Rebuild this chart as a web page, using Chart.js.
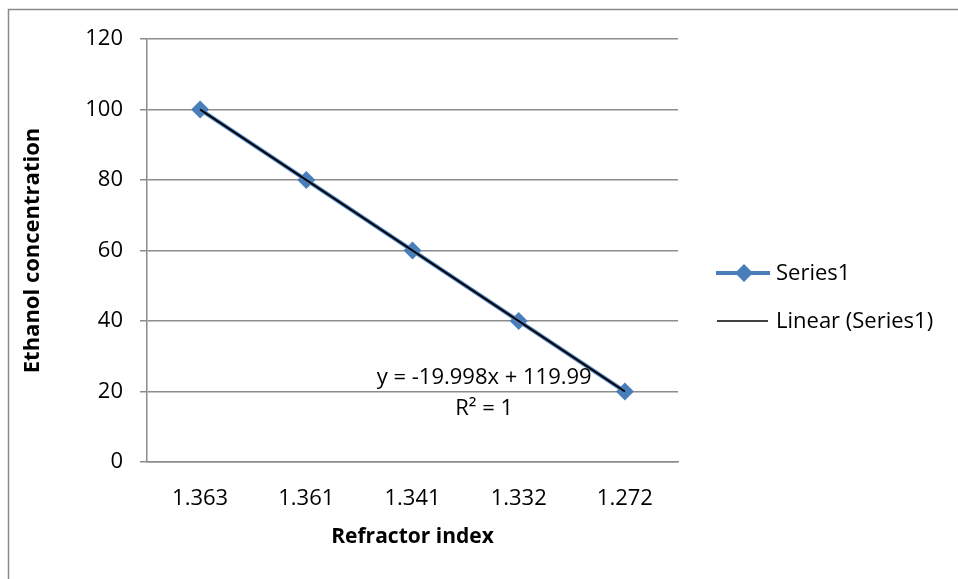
<!DOCTYPE html>
<html>
<head>
<meta charset="utf-8">
<script src="https://cdn.jsdelivr.net/npm/chart.js@4/dist/chart.umd.min.js"></script>
<style>
  body { margin: 0; background: #fff; }
  canvas { display: block; }
</style>
</head>
<body>
<canvas id="chart" width="958" height="579"></canvas>
<script>
// values
const categories = ["1.363", "1.361", "1.341", "1.332", "1.272"];
const series1 = [100, 80, 60, 40, 20];
const linearFit = [100, 80, 60, 40, 20];
const yTicks = { min: 0, max: 120, step: 20 };
const fitLabel = ["y = -19.998x + 119.99", "R\u00B2 = 1"];

const FONT = "'Open Sans', sans-serif";
const BLUE = '#4A7EBB';
const GRID = '#8c8c8c';

// outer frame (only top + left edges are inside the picture)
const framePlugin = {
    id: 'frame',
    beforeDraw(chart) {
        const ctx = chart.ctx;
        ctx.save();
        ctx.strokeStyle = '#8a8a8a';
        ctx.lineWidth = 1.5;
        ctx.beginPath();
        ctx.moveTo(8.5, chart.height);
        ctx.lineTo(8.5, 9.5);
        ctx.lineTo(chart.width, 9.5);
        ctx.stroke();
        ctx.restore();
    }
};

// legend on the right + trendline equation
const extrasPlugin = {
    id: 'extras',
    afterDraw(chart) {
        const ctx = chart.ctx;
        const area = chart.chartArea;
        ctx.save();
        ctx.font = '22px ' + FONT;
        ctx.fillStyle = '#000';
        ctx.textBaseline = 'middle';

        // Series1 legend
        let y = 273;
        ctx.strokeStyle = BLUE;
        ctx.lineWidth = 4;
        ctx.beginPath();
        ctx.moveTo(716, y);
        ctx.lineTo(770, y);
        ctx.stroke();
        ctx.fillStyle = BLUE;
        ctx.beginPath();
        ctx.moveTo(735, y);
        ctx.lineTo(744, y - 9);
        ctx.lineTo(753, y);
        ctx.lineTo(744, y + 9);
        ctx.closePath();
        ctx.fill();
        ctx.fillStyle = '#000';
        ctx.textAlign = 'left';
        ctx.fillText(chart.data.datasets[0].label, 776, y + 1);

        // Linear legend
        y = 321;
        ctx.strokeStyle = '#000';
        ctx.lineWidth = 1.5;
        ctx.beginPath();
        ctx.moveTo(717, y);
        ctx.lineTo(768, y);
        ctx.stroke();
        ctx.fillText(chart.data.datasets[1].label, 776, y + 1);

        // trendline equation
        ctx.textAlign = 'center';
        const cx = area.left + 0.635 * (area.right - area.left);
        const cy = area.top + 0.80 * (area.bottom - area.top);
        ctx.fillText(fitLabel[0], cx, cy);
        ctx.fillText(fitLabel[1], cx, cy + 31);
        ctx.restore();
    }
};

new Chart(document.getElementById('chart'), {
    type: 'line',
    data: {
        labels: categories,
        datasets: [
            {
                label: 'Series1',
                data: series1,
                borderColor: BLUE,
                backgroundColor: BLUE,
                borderWidth: 4,
                pointStyle: 'rectRot',
                pointRadius: 9,
                pointBorderWidth: 0,
                pointBackgroundColor: BLUE,
                tension: 0,
                order: 1
            },
            {
                label: 'Linear (Series1)',
                data: linearFit,
                borderColor: '#000',
                borderWidth: 2,
                pointRadius: 0,
                tension: 0,
                order: 0
            }
        ]
    },
    options: {
        responsive: false,
        animation: false,
        layout: { padding: { top: 39, left: 10, right: 280, bottom: 0 } },
        plugins: {
            legend: { display: false },
            tooltip: { enabled: false }
        },
        scales: {
            x: {
                offset: true,
                grid: { display: false, drawTicks: false },
                border: { display: true, color: GRID, width: 1.5 },
                ticks: {
                    color: '#000',
                    font: { family: FONT, size: 22 },
                    padding: 24,
                    maxRotation: 0
                },
                title: {
                    display: true,
                    text: 'Refractor index',
                    color: '#000',
                    font: { family: FONT, size: 21, weight: 'bold' },
                    padding: { top: 0, bottom: 29 }
                },
                afterFit(scale) { scale.height = 117; }
            },
            y: {
                min: yTicks.min,
                max: yTicks.max,
                grid: {
                    color: GRID,
                    lineWidth: 1.5,
                    drawTicks: true,
                    tickLength: 7,
                    tickColor: GRID
                },
                border: { display: true, color: GRID, width: 1.5 },
                ticks: {
                    stepSize: yTicks.step,
                    color: '#000',
                    font: { family: FONT, size: 22 },
                    padding: 17
                },
                title: {
                    display: true,
                    text: 'Ethanol concentration',
                    color: '#000',
                    font: { family: FONT, size: 22, weight: 'bold' },
                    padding: { top: 10, bottom: 0 }
                },
                afterFit(scale) { scale.width = 137; }
            }
        }
    },
    plugins: [framePlugin, extrasPlugin]
});
</script>
</body>
</html>
